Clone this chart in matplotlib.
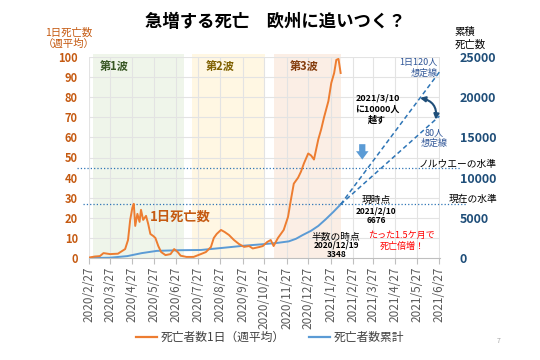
import numpy as np
import pandas as pd
import matplotlib
matplotlib.use("Agg")
import matplotlib.pyplot as plt
from matplotlib.lines import Line2D

plt.rcParams['font.family'] = ['Noto Sans CJK JP', 'DejaVu Sans']

# daily deaths, 7-day average
daily_dates = ["2020-02-27", "2020-03-06", "2020-03-13", "2020-03-18", "2020-03-27", "2020-04-07",
               "2020-04-17", "2020-04-21", "2020-04-24", "2020-04-27", "2020-04-29", "2020-05-01",
               "2020-05-04", "2020-05-07", "2020-05-09", "2020-05-12", "2020-05-16", "2020-05-19",
               "2020-05-22", "2020-05-26", "2020-05-29", "2020-06-02", "2020-06-06", "2020-06-12",
               "2020-06-19", "2020-06-24", "2020-06-29", "2020-07-03", "2020-07-11", "2020-07-21",
               "2020-07-31", "2020-08-07", "2020-08-14", "2020-08-18", "2020-08-22", "2020-08-28",
               "2020-09-02", "2020-09-08", "2020-09-15", "2020-09-22", "2020-09-29", "2020-10-06",
               "2020-10-11", "2020-10-20", "2020-10-25", "2020-10-31", "2020-11-05", "2020-11-09",
               "2020-11-15", "2020-11-23", "2020-11-29", "2020-12-03", "2020-12-07", "2020-12-13",
               "2020-12-17", "2020-12-21", "2020-12-27", "2020-12-31", "2021-01-04", "2021-01-10",
               "2021-01-14", "2021-01-18", "2021-01-24", "2021-01-28", "2021-02-01", "2021-02-04",
               "2021-02-07", "2021-02-10"]
daily_vals = [0.3, 0.8, 1.0, 2.5, 2.0, 2.2,
              4.5, 9, 19, 25, 27, 16,
              22, 18, 24, 19, 21, 17,
              12, 11, 10, 6, 3, 1.5,
              2, 4.5, 3, 1.2, 0.6, 0.6,
              2, 3, 5.5, 10, 12, 14,
              13, 11.5, 9, 7, 5.6, 6,
              4.8, 5.5, 6, 8, 9, 6,
              10, 14, 20.5, 29, 37, 40,
              43, 47, 52, 51, 49, 59,
              64, 70, 78, 87, 92, 98.5,
              99, 92]

# cumulative deaths
cum_dates = ["2020-02-27", "2020-03-27", "2020-04-20", "2020-05-10", "2020-05-31", "2020-06-30",
             "2020-07-31", "2020-08-31", "2020-09-30", "2020-10-27", "2020-11-15", "2020-11-30",
             "2020-12-10", "2020-12-19", "2020-12-31", "2021-01-10", "2021-01-20", "2021-01-31",
             "2021-02-10"]
cum_vals = [5, 50, 250, 620, 900, 980,
            1010, 1280, 1550, 1740, 1900, 2080,
            2400, 2850, 3400, 4000, 4800, 5750,
            6676]

# projections from 2021/2/10
proj_dates = ["2021-02-10", "2021-06-27"]
proj_120 = [6676, 6676 + 120 * 137]
proj_80 = [6676, 6676 + 80 * 137]

norway_level = 11200
current_level = 6676

waves = [("第1波", "2020-03-03", "2020-07-08", "2020-03-13", "#EFF5EA", "#375623"),
         ("第2波", "2020-07-19", "2020-10-28", "2020-08-07", "#FFF7E3", "#7F6000"),
         ("第3波", "2020-11-09", "2021-02-10", "2020-12-02", "#FBEEE5", "#843C0C")]

tick_dates = pd.date_range("2020-02-01", "2021-06-27", freq="MS") + pd.Timedelta(days=26)
tick_labels = [f"{d.year}/{d.month}/{d.day}" for d in tick_dates]

fig = plt.figure(figsize=(5.4, 3.6), dpi=100)
ax = fig.add_axes([0.165, 0.283, 0.65, 0.559])
ax2 = ax.twinx()
ax.set_zorder(ax2.get_zorder() + 1)
ax.patch.set_visible(False)

for name, s, e, lx, fc, tc in waves:
    ax2.fill_between([pd.Timestamp(s), pd.Timestamp(e)], 0, 25400, color=fc, lw=0, zorder=0,
                     clip_on=False)

dd = pd.to_datetime(daily_dates)
ax.plot(dd, daily_vals, color="#ED7D31", lw=1.4, zorder=5)

cd = pd.to_datetime(cum_dates)
ax2.plot(cd, cum_vals, color="#5B9BD5", lw=1.4, zorder=4)
pdt = pd.to_datetime(proj_dates)
ax2.plot(pdt, proj_120, color="#2E75B6", lw=1.1, ls=(0, (3, 2)), zorder=4)
ax2.plot(pdt, proj_80, color="#2E75B6", lw=1.1, ls=(0, (3, 2)), zorder=4)

tr = ax2.get_yaxis_transform()
ax2.plot([-0.034, 1.057], [norway_level] * 2, transform=tr, color="#2E75B6", lw=0.9, ls=":",
         clip_on=False)
ax2.plot([-0.017, 1.077], [current_level] * 2, transform=tr, color="#2E75B6", lw=0.9, ls=":",
         clip_on=False)
ax2.text(1.162, norway_level + 550, "ノルウエーの水準", transform=tr, fontsize=7, ha="right",
         va="center")
ax2.text(1.162, current_level + 700, "現在の水準", transform=tr, fontsize=7, ha="right",
         va="center")

xmin, xmax = pd.Timestamp("2020-02-27"), pd.Timestamp("2021-06-28")
for a in (ax, ax2):
    a.set_xlim(xmin, xmax)
    for sp in a.spines.values():
        sp.set_visible(False)
ax.set_ylim(0, 100)
ax2.set_ylim(0, 25000)
ax.set_yticks(range(0, 101, 10))
ax2.set_yticks(range(0, 25001, 5000))
for y in range(10, 101, 10):
    ax2.axhline(y * 250, color="#E3E3E3", lw=0.8, zorder=1)
for d in tick_dates:
    ax2.axvline(d, color="#E3E3E3", lw=0.8, zorder=1)
ax.spines['bottom'].set_visible(True)
ax.spines['bottom'].set_color("#BFBFBF")

ax.set_xticks(tick_dates)
ax.set_xticklabels(tick_labels, rotation=90, fontsize=8.5, color="#595959")
ax.tick_params(axis='x', length=4, color="#BFBFBF", pad=2)
ax.tick_params(axis='y', length=0, labelsize=8, labelcolor="#C55A11", pad=8)
for t in ax.get_yticklabels():
    t.set_fontweight("bold")
ax2.tick_params(axis='y', length=0, labelsize=9, labelcolor="#1F4E79", pad=14)
for t in ax2.get_yticklabels():
    t.set_fontweight("bold")

fig.text(0.51, 0.94, "急増する死亡　欧州に追いつく？", ha="center", va="center", fontsize=12.5,
         fontweight="bold")
fig.text(0.128, 0.893, "1日死亡数\n（週平均）", ha="center", va="center", fontsize=7.5,
         color="#C55A11", linespacing=1.1)
fig.text(0.842, 0.893, "累積\n死亡数", ha="left", va="center", fontsize=7.5, linespacing=1.3)

for name, s, e, lx, fc, tc in waves:
    ax.text(pd.Timestamp(lx), 95, name, color=tc, fontsize=8, va="center", ha="left",
            fontweight="bold")

ax.text(pd.Timestamp("2020-05-22"), 20.5, "1日死亡数", color="#C55A11", fontsize=9.5,
        fontweight="bold", va="center", ha="left")

ax2.text(pd.Timestamp("2021-06-24"), 23600, "1日120人\n想定線", color="#2F5597", fontsize=6.5,
         ha="right", va="center", linespacing=1.2)
ax2.text(pd.Timestamp("2021-06-20"), 14900, "80人\n想定線", color="#2F5597", fontsize=6.5,
         ha="center", va="center", linespacing=1.2)
ax2.annotate("", xy=(pd.Timestamp("2021-06-22"), 17200), xytext=(pd.Timestamp("2021-05-31"), 19900),
             arrowprops=dict(arrowstyle="<|-|>,head_length=0.3,head_width=0.15", color="#1F4E79",
                             lw=1.5, connectionstyle="arc3,rad=-0.45", shrinkA=0, shrinkB=0))
ax2.text(pd.Timestamp("2021-04-02"), 18500, "2021/3/10\nに10000人\n越す", fontsize=6.5,
         fontweight="bold", ha="center", va="center", linespacing=1.3)
ax2.annotate("", xy=(pd.Timestamp("2021-03-12"), 11900), xytext=(pd.Timestamp("2021-03-12"), 14500),
             arrowprops=dict(arrowstyle="simple,head_width=0.9,head_length=0.6,tail_width=0.45",
                             color="#5B9BD5", lw=0))

# annotation texts, one line each
notes = [("2021-03-31", 7250, "現時点", 7, "normal"),
         ("2021-03-31", 5800, "2021/2/10", 6, "bold"),
         ("2021-03-31", 4700, "6676", 6, "bold"),
         ("2021-02-04", 2650, "半数の時点", 7, "normal"),
         ("2021-02-04", 1580, "2020/12/19", 6, "bold"),
         ("2021-02-04", 500, "3348", 6, "bold")]
for d, v, s, fs, fw in notes:
    ax2.text(pd.Timestamp(d), v, s, fontsize=fs, fontweight=fw, ha="center", va="center")

ax2.text(pd.Timestamp("2021-05-06"), 2100, "たった1.5ケ月で\n死亡倍増！", fontsize=6.5, color="red",
         ha="center", va="center", linespacing=1.2)

handles = [Line2D([], [], color="#ED7D31", lw=1.6), Line2D([], [], color="#5B9BD5", lw=1.6)]
fig.legend(handles, ["死亡者数1日（週平均）", "死亡者数累計"], loc="center", ncol=2,
           bbox_to_anchor=(0.5, 0.062), frameon=False, fontsize=8.5, handlelength=1.8,
           columnspacing=2.0, handletextpad=0.3, labelcolor="#404040")
fig.text(0.92, 0.047, "7", fontsize=5, color="#A6A6A6")

fig.savefig("out.png", dpi=100)
